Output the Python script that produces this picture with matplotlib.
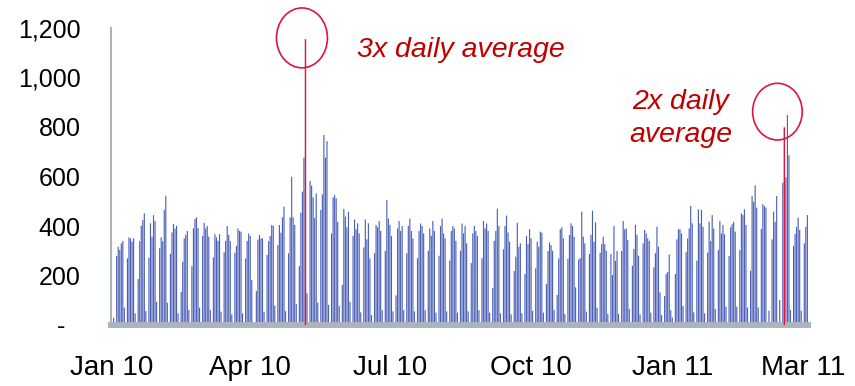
import numpy as np
import pandas as pd
import matplotlib
matplotlib.use("Agg")
import matplotlib.pyplot as plt
import matplotlib.dates as mdates
from matplotlib.patches import Ellipse
from matplotlib.ticker import FuncFormatter
from matplotlib.transforms import ScaledTranslation

plt.rcParams['font.family'] = ['Liberation Sans', 'DejaVu Sans']

first_day = "2010-01-01"

# daily counts, one row per week Mon..Sun (first row starts on Fri 1 Jan)
counts_2010_q1 = [
    0, 30, 0,
    279, 316, 303, 330, 339, 70, 0,
    269, 354, 350, 337, 350, 47, 0,
    186, 339, 401, 424, 451, 56, 0,
    272, 411, 357, 444, 420, 94, 0,
    310, 354, 339, 465, 522, 90, 0,
    287, 374, 408, 390, 401, 47, 0,
    133, 256, 350, 364, 380, 61, 0,
    238, 390, 428, 435, 392, 70, 0,
    360, 413, 390, 400, 357, 61, 0,
    273, 367, 354, 340, 367, 54, 0,
    294, 340, 400, 364, 339, 43, 0,
    292, 319, 390, 380, 377, 47, 0,
    269, 340, 370, 360, 182, 0, 0,
]
counts_2010_q2 = [
    137, 345, 364, 350, 350, 54, 0,
    283, 339, 360, 404, 401, 78, 0,
    323, 404, 373, 435, 478, 56, 0,
    290, 435, 599, 435, 404, 85, 0,
    238, 454, 539, 676, 1155, 128, 0,
    582, 563, 516, 432, 532, 90, 0,
    465, 528, 768, 676, 743, 81, 0,
    370, 516, 525, 512, 417, 77, 0,
    162, 469, 438, 395, 458, 94, 0,
    360, 426, 387, 411, 370, 51, 0,
    314, 426, 346, 411, 269, 40, 0,
    290, 404, 395, 420, 380, 60, 0,
    300, 505, 430, 405, 360, 55, 0,
]
counts_2010_q3 = [
    120, 390, 420, 380, 400, 60, 0,
    290, 400, 430, 380, 350, 55, 0,
    270, 380, 410, 400, 370, 60, 0,
    300, 390, 360, 420, 380, 50, 0,
    280, 400, 430, 370, 350, 55, 0,
    260, 380, 400, 390, 340, 50, 0,
    300, 410, 370, 400, 330, 55, 0,
    250, 370, 400, 380, 360, 60, 0,
    270, 420, 390, 410, 380, 50, 0,
    150, 340, 380, 470, 400, 47, 0,
    306, 400, 442, 374, 337, 43, 0,
    218, 276, 413, 316, 330, 47, 0,
    206, 360, 327, 387, 350, 57, 0,
]
counts_2010_q4 = [
    229, 337, 316, 377, 373, 50, 0,
    166, 299, 334, 323, 300, 61, 0,
    121, 269, 387, 395, 350, 44, 0,
    267, 364, 411, 400, 357, 152, 0,
    265, 270, 458, 357, 330, 54, 0,
    287, 364, 462, 337, 415, 70, 0,
    292, 327, 357, 327, 300, 44, 0,
    287, 202, 400, 259, 299, 44, 0,
    299, 420, 387, 390, 344, 65, 0,
    240, 307, 404, 364, 280, 43, 0,
    330, 384, 370, 350, 340, 50, 0,
    233, 290, 397, 316, 132, 40, 0,
    117, 206, 215, 285, 60, 30, 0,
]
counts_2011_q1 = [
    206, 346, 387, 387, 370, 77, 0,
    294, 349, 390, 481, 411, 51, 0,
    260, 467, 411, 465, 397, 47, 0,
    292, 417, 339, 444, 390, 65, 0,
    303, 420, 370, 404, 367, 74, 0,
    279, 395, 407, 417, 377, 74, 0,
    303, 451, 444, 467, 404, 71, 0,
    219, 521, 498, 564, 474, 71, 0,
    388, 488, 481, 474, 0, 58, 0,
    346, 458, 417, 521, 0, 101, 0,
    575, 799, 597, 848, 686, 61, 0,
    319, 368, 397, 434, 384, 58, 0,
    330, 397, 444,
]

spike_days = ["2010-05-07", "2011-03-15"]
tick_days = ["2010-01-01", "2010-04-01", "2010-07-01", "2010-10-01",
             "2011-01-01", "2011-03-27"]

bar_blue = "#4c60b6"
axis_grey = "#aab4be"
ring_red = "#e0143c"
text_red = "#c00000"

counts = np.array(counts_2010_q1 + counts_2010_q2 + counts_2010_q3
                  + counts_2010_q4 + counts_2011_q1)
days = pd.date_range(first_day, periods=len(counts), freq="D")

fig = plt.figure(figsize=(8.55, 3.86), dpi=100)
ax = fig.add_axes([111 / 855, 61 / 386, 697 / 855, 297 / 386])

hl = days.isin(pd.to_datetime(spike_days))
ax.bar(days[~hl], counts[~hl], width=0.75, color=bar_blue, linewidth=0, snap=False)
ax.bar(days[hl], counts[hl], width=0.95, color=ring_red, linewidth=0, snap=False, zorder=3)

ax.set_ylim(0, 1200)
ax.set_xlim(days[0] - pd.Timedelta(hours=17), days[-1] + pd.Timedelta(hours=10))

for side in ("top", "right"):
    ax.spines[side].set_visible(False)
ax.spines["left"].set_color(axis_grey)
ax.spines["left"].set_linewidth(1.5)
ax.spines["bottom"].set_color(axis_grey)
ax.spines["bottom"].set_linewidth(4.3)

ax.set_yticks(range(0, 1201, 200))
ax.yaxis.set_major_formatter(FuncFormatter(lambda v, _: "-" if v == 0 else f"{v:,.0f}"))
ax.set_xticks(pd.to_datetime(tick_days))
ax.xaxis.set_major_formatter(mdates.DateFormatter("%b %y"))
ax.tick_params(axis="y", length=0, pad=22, labelsize=18)
ax.tick_params(axis="x", length=0, pad=21.5, labelsize=20)

# the dash for zero sits a bit left of the other numbers
fig.canvas.draw()
zero_lbl = ax.get_yticklabels()[0]
zero_lbl.set_transform(zero_lbl.get_transform()
                       + ScaledTranslation(-0.15, 0, fig.dpi_scale_trans))

# rings around the two spikes
rings = [(pd.Timestamp("2010-05-04 17:00"), 1160, 33.2, 242),
         (pd.Timestamp("2011-03-10 12:00"), 862, 32.3, 229)]
for cx, cy, w, h in rings:
    ax.add_patch(Ellipse((mdates.date2num(cx), cy), w, h, fill=False,
                         edgecolor=ring_red, linewidth=1.2, clip_on=False, zorder=4))

ax.text(pd.Timestamp("2010-06-09 07:00"), 1084, "3x daily average",
        color=text_red, fontsize=20.5, fontstyle="italic", ha="left", va="baseline")
ax.text(pd.Timestamp("2011-01-06 14:00"), 871, "2x daily",
        color=text_red, fontsize=20.5, fontstyle="italic", ha="center", va="baseline")
ax.text(pd.Timestamp("2011-01-06 14:00"), 741, "average",
        color=text_red, fontsize=20.5, fontstyle="italic", ha="center", va="baseline")

fig.savefig("out.png", dpi=100)
